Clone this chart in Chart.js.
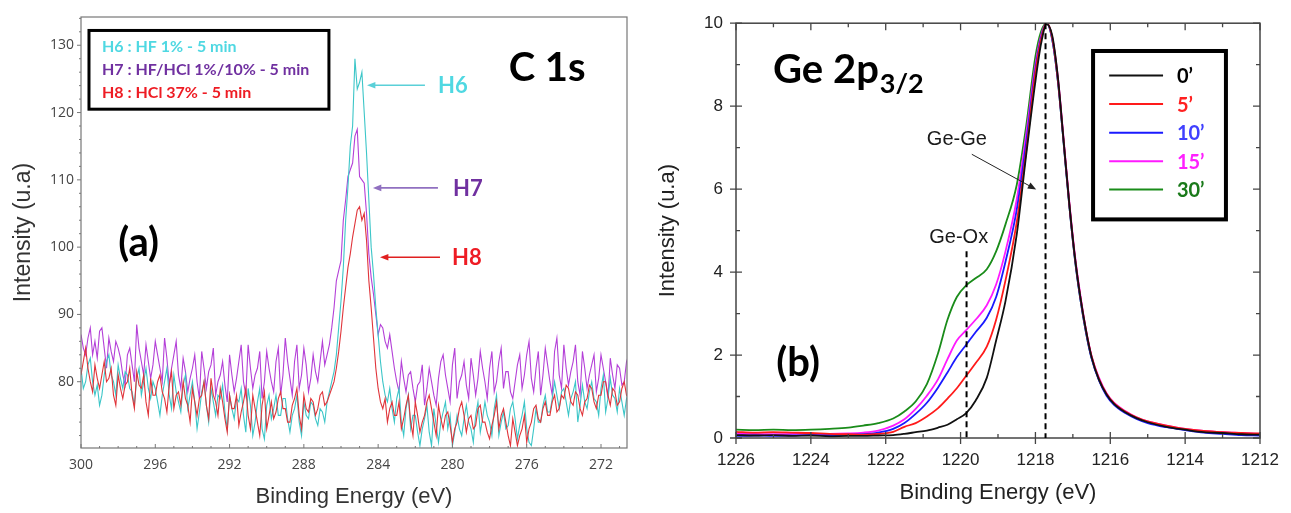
<!DOCTYPE html>
<html>
<head>
<meta charset="utf-8">
<script src="https://cdn.jsdelivr.net/npm/chart.js@4.4.1/dist/chart.umd.min.js"></script>
<style>
  html, body { margin: 0; padding: 0; background: #fff; }
  #wrap { position: relative; width: 1291px; height: 513px; }
  .panel { position: absolute; top: 0; height: 513px; }
  #panel-a { left: 0; width: 645px; }
  #panel-b { left: 645px; width: 646px; }
</style>
</head>
<body>
<div id="wrap">
  <div class="panel" id="panel-a"><canvas id="c1s"></canvas></div>
  <div class="panel" id="panel-b"><canvas id="ge2p"></canvas></div>
</div>
<script>
// ---- (a) C 1s : sampled every 0.125 eV from 300 eV downwards
const c1sStart = 300, c1sStep = 0.125;
const h7 = [87, 85, 84, 86.5, 88, 84, 86, 83.5, 87.5, 88,
  85, 82, 86.5, 84.5, 83, 86, 85, 83.5, 81, 79.5,
  84, 85, 82.5, 80, 88.5, 85, 83, 81, 85.5, 83,
  80.5, 82.5, 86, 84, 82, 80, 86.5, 83.5, 79.5, 82,
  84, 86, 81, 79, 83.5, 81.5, 78.5, 80.5, 82, 84,
  80, 77.5, 84.5, 82, 79, 81.5, 82.5, 85, 78, 80,
  81, 83, 79.5, 77, 84, 81, 78.5, 80.5, 83, 85.5,
  80, 78, 85.5, 82, 79, 81, 82, 84.5, 77.5, 80,
  84.5, 82, 80, 78.5, 83, 85, 78, 81, 86.5, 83,
  80.5, 78, 83, 85.5, 79, 81, 85, 82.5, 78.5, 80.5,
  84, 81.5, 80, 83, 86, 82.5, 84, 85.5, 88, 91,
  95, 96.5, 98, 104, 107, 110.5, 111.5, 112.5, 116.5, 117.5,
  110.5, 110, 109.5, 105, 99, 95.5, 93, 90, 87, 88.5,
  88, 86, 85, 87, 84.5, 82, 80, 78.5, 83, 80.5,
  78.5, 81, 81.5, 79, 77, 79.5, 80, 82.5, 76.5, 79,
  82, 80, 78, 76.5, 80.5, 83, 84, 81, 79, 77,
  82.5, 85, 77.5, 80, 81, 83, 79.5, 77.5, 83.5, 81,
  78, 80.5, 84.5, 82, 80, 77.5, 82, 84.5, 78.5, 80,
  83, 85, 79, 81.5, 81.5, 78.5, 77.5, 80, 82.5, 84,
  79, 81, 84, 86, 80.5, 78.5, 82, 84.5, 78, 81,
  85, 82.5, 80, 78, 84.5, 86.5, 81, 79, 85.5, 82,
  79.5, 81.5, 83, 85.5, 80, 78, 84.5, 82, 79, 81,
  82.5, 84, 78.5, 80.5, 84, 82, 80, 77.5, 83.5, 81,
  79, 82.5, 82, 79.5, 80, 83, 84];
const h6 = [82, 79, 80, 82.5, 83.5, 80, 78, 79.5, 76.5, 78,
  81, 83, 84, 81, 80, 78, 82.5, 80.5, 79, 81.5,
  81, 79, 78.5, 76.5, 80.5, 82, 78, 80, 82, 79,
  77.5, 80, 79, 77, 75, 78, 80, 82, 78, 76,
  81, 78.5, 77, 75.5, 79.5, 81, 76, 78, 80, 77,
  73, 75.5, 78.5, 80, 76.5, 74, 79, 77, 75, 78,
  77.5, 79.5, 75.5, 73, 78, 76, 74.5, 77.5, 77, 79,
  75, 72.5, 79, 76.5, 72, 74, 77, 79, 73, 71.5,
  76.5, 78, 74.5, 76, 78, 75, 75, 77.5, 77.5, 74.5,
  72.5, 75, 76, 78, 74, 72, 77, 75, 74.5, 77,
  76.5, 74.5, 73.5, 76, 75.5, 74, 77, 78.5, 80, 81.5,
  84, 88, 92, 97, 104, 109, 115, 118, 128, 123.5,
  124.5, 126, 120, 114, 107, 100, 96, 91, 87, 83,
  80, 78, 77, 79, 76, 74, 77.5, 79, 74, 72,
  76, 78, 73, 75, 75, 72.5, 70.5, 73, 74.5, 76.5,
  72.5, 70.5, 76, 73.5, 71, 74, 75.5, 77, 73, 75,
  70.5, 72.5, 75, 73, 72, 74.5, 76.5, 74, 73, 71,
  75, 77, 72.5, 74.5, 77, 75, 74, 72, 76, 78,
  72, 74, 75.5, 73, 73.5, 76, 77, 74.5, 71.5, 73.5,
  75, 77, 73, 71, 70.5, 73, 76, 74, 74, 76.5,
  78, 75.5, 75.5, 77.5, 80, 78, 76, 78.5, 79, 77,
  75, 77.5, 78.5, 80, 74, 76.5, 79.5, 77, 76, 78.5,
  80, 77.5, 77, 75, 79, 81, 75.5, 77.5, 80.5, 78,
  77.5, 75.5, 79, 77, 75, 77.5, 78.5];
const h8 = [81, 83, 85, 82, 80, 78.5, 82.5, 80.5, 79, 81,
  83, 80, 80.5, 82, 78, 76.5, 81, 79, 77.5, 79.5,
  80, 82, 78, 76, 81.5, 79.5, 79, 81, 77, 75,
  80.5, 78, 78, 80, 81, 78.5, 77.5, 75.5, 79.5, 81.5,
  76, 78, 78.5, 76.5, 80, 77.5, 76.5, 74, 79, 77,
  75, 77.5, 78, 80, 76.5, 74.5, 80.5, 78, 77, 75,
  79, 77, 74.5, 72.5, 78, 76, 76, 78, 73.5, 75.5,
  77, 79, 75, 73, 78, 76, 74, 72, 76.5, 78.5,
  73, 75, 77, 74.5, 75.5, 77.5, 78.5, 76, 76, 74,
  74, 76.5, 77.5, 79, 75, 73, 78, 76, 75.5, 77.5,
  77, 75, 76, 78, 78.5, 76.5, 77, 78, 79, 80,
  82, 84.5, 87.5, 91, 94, 97, 99, 101.5, 103.5, 105.5,
  106, 104, 105, 101, 95, 91, 86.5, 82, 79, 77,
  76, 77.5, 74, 76, 77, 75, 75, 77, 73, 74.5,
  76.5, 78, 74, 72, 77, 75, 72.5, 74, 75, 77,
  78, 76, 74, 72, 76.5, 74.5, 73, 75, 75.5, 73.5,
  71, 73, 74, 76, 77, 75, 72.5, 74.5, 75, 73,
  73.5, 76, 76.5, 74, 74, 72.5, 71.5, 73.5, 75, 77,
  73, 75, 76, 74, 72, 70.5, 74.5, 72.5, 70.5, 72,
  73, 75, 71, 73, 74, 76, 76.5, 74.5, 74, 76,
  77, 75, 75, 77, 78, 75.5, 76, 78, 77.5, 79.5,
  79, 77, 76.5, 78.5, 78, 76, 75, 77, 77.5, 79.5,
  79, 77, 76, 78, 78, 80, 80, 78, 76.5, 79,
  78.5, 76.5, 77, 79, 80, 78, 77.5];
const c1sEnergy = h6.map((_, i) => c1sStart - i * c1sStep);
const c1sXTicks = [300, 296, 292, 288, 284, 280, 276, 272];
const c1sXMinor = [299, 298, 297, 295, 294, 293, 291, 290, 289, 287, 286, 285, 283, 282, 281, 279, 278, 277, 275, 274, 273, 271];
const c1sYTicks = [80, 90, 100, 110, 120, 130];
const c1sYMinor = [72, 74, 76, 78, 82, 84, 86, 88, 92, 94, 96, 98, 102, 104, 106, 108, 112, 114, 116, 118, 122, 124, 126, 128, 132, 134];

// ---- (b) Ge 2p3/2
const geEnergy = [1226, 1225.5, 1225, 1224.5, 1224, 1223.5, 1223, 1222.6, 1222.2, 1221.8,
  1221.5, 1221.2, 1220.9, 1220.6, 1220.35, 1220.1, 1219.85, 1219.6, 1219.3, 1219.05,
  1218.8, 1218.5, 1218.25, 1218.0, 1217.85, 1217.7, 1217.55, 1217.4, 1217.25, 1217.1,
  1216.95, 1216.8, 1216.65, 1216.5, 1216.3, 1216.1, 1215.9, 1215.6, 1215.3, 1215.0,
  1214.5, 1214, 1213.5, 1213, 1212.5, 1212];
const ge0 = [0.07, 0.06, 0.07, 0.05, 0.06, 0.04, 0.05, 0.05, 0.06, 0.07,
  0.1, 0.14, 0.18, 0.25, 0.32, 0.45, 0.6, 0.9, 1.45, 2.35,
  3.3, 4.9, 6.8, 8.6, 9.5, 9.98, 9.7, 8.7, 7.2, 5.7,
  4.4, 3.4, 2.6, 1.95, 1.4, 1.05, 0.82, 0.62, 0.48, 0.38,
  0.27, 0.2, 0.14, 0.12, 0.09, 0.08];
const ge5 = [0.15, 0.13, 0.14, 0.13, 0.12, 0.1, 0.09, 0.08, 0.1, 0.15,
  0.27, 0.36, 0.52, 0.72, 0.95, 1.2, 1.5, 1.8, 2.2, 2.85,
  3.8, 5.2, 6.9, 8.8, 9.6, 10, 9.65, 8.65, 7.2, 5.7,
  4.4, 3.4, 2.6, 1.97, 1.42, 1.07, 0.84, 0.64, 0.5, 0.4,
  0.3, 0.22, 0.17, 0.14, 0.12, 0.11];
const ge10 = [0.05, 0.06, 0.05, 0.06, 0.07, 0.07, 0.08, 0.09, 0.13, 0.22,
  0.36, 0.58, 0.85, 1.22, 1.58, 1.95, 2.25, 2.55, 2.9, 3.4,
  4.25, 5.5, 7.1, 8.9, 9.65, 10, 9.6, 8.6, 7.15, 5.65,
  4.35, 3.35, 2.55, 1.92, 1.38, 1.02, 0.8, 0.6, 0.46, 0.36,
  0.26, 0.19, 0.13, 0.1, 0.07, 0.06];
const ge15 = [0.1, 0.1, 0.09, 0.1, 0.1, 0.1, 0.11, 0.13, 0.18, 0.3,
  0.45, 0.7, 1.02, 1.42, 1.9, 2.35, 2.6, 2.85, 3.2, 3.7,
  4.5, 5.75, 7.3, 9.0, 9.7, 10, 9.65, 8.7, 7.25, 5.75,
  4.45, 3.45, 2.62, 1.98, 1.45, 1.08, 0.85, 0.65, 0.5, 0.4,
  0.3, 0.22, 0.17, 0.14, 0.12, 0.1];
const ge30 = [0.2, 0.19, 0.2, 0.19, 0.2, 0.22, 0.25, 0.3, 0.36, 0.47,
  0.64, 0.88, 1.3, 2.05, 2.85, 3.4, 3.68, 3.85, 4.07, 4.5,
  5.15, 6.1, 7.5, 9.2, 9.8, 10, 9.6, 8.6, 7.15, 5.65,
  4.35, 3.35, 2.55, 1.93, 1.4, 1.05, 0.82, 0.62, 0.48, 0.38,
  0.28, 0.2, 0.15, 0.12, 0.1, 0.08];
const geLabels = ['0’', '5’', '10’', '15’', '30’'];
const geXTicks = [1226, 1224, 1222, 1220, 1218, 1216, 1214, 1212];
const geXMinor = [1225, 1223, 1221, 1219, 1217, 1215, 1213];
const geYTicks = [0, 2, 4, 6, 8, 10];
const geYMinor = [1, 3, 5, 7, 9];

const AXIS_FONT = '"Liberation Sans", Arial, sans-serif';
const BOLD_FONT = 'Lato, "Open Sans", sans-serif';

function pts(xs, ys) { return ys.map((v, i) => ({ x: xs[i], y: v })); }

function axisDecor(spec) {
  return {
    id: 'axisDecor',
    afterDatasetsDraw(chart) {
      const { ctx, chartArea: a, scales: { x, y } } = chart;
      ctx.save();
      ctx.strokeStyle = spec.color;
      ctx.lineWidth = spec.frameWidth;
      ctx.strokeRect(a.left, a.top, a.right - a.left, a.bottom - a.top);
      ctx.lineWidth = spec.tickWidth;
      ctx.beginPath();
      (spec.bottom || []).forEach(([vals, inner, outer]) => vals.forEach(v => {
        const p = x.getPixelForValue(v); ctx.moveTo(p, a.bottom - inner); ctx.lineTo(p, a.bottom + outer);
      }));
      (spec.top || []).forEach(([vals, inner, outer]) => vals.forEach(v => {
        const p = x.getPixelForValue(v); ctx.moveTo(p, a.top + inner); ctx.lineTo(p, a.top - outer);
      }));
      (spec.left || []).forEach(([vals, inner, outer]) => vals.forEach(v => {
        const p = y.getPixelForValue(v); ctx.moveTo(a.left + inner, p); ctx.lineTo(a.left - outer, p);
      }));
      (spec.right || []).forEach(([vals, inner, outer]) => vals.forEach(v => {
        const p = y.getPixelForValue(v); ctx.moveTo(a.right - inner, p); ctx.lineTo(a.right + outer, p);
      }));
      ctx.stroke();
      ctx.restore();
    }
  };
}

function arrow(ctx, x1, y1, x2, y2, color, width, head) {
  const ang = Math.atan2(y2 - y1, x2 - x1);
  ctx.strokeStyle = color; ctx.fillStyle = color; ctx.lineWidth = width;
  ctx.beginPath();
  ctx.moveTo(x1, y1);
  ctx.lineTo(x2 - Math.cos(ang) * head * 0.8, y2 - Math.sin(ang) * head * 0.8);
  ctx.stroke();
  ctx.beginPath();
  ctx.moveTo(x2, y2);
  ctx.lineTo(x2 - head * Math.cos(ang - 0.38), y2 - head * Math.sin(ang - 0.38));
  ctx.lineTo(x2 - head * Math.cos(ang + 0.38), y2 - head * Math.sin(ang + 0.38));
  ctx.closePath();
  ctx.fill();
}

function pixel(chart, xv, yv) {
  return [chart.scales.x.getPixelForValue(xv), chart.scales.y.getPixelForValue(yv)];
}

// notes on panel (a)
const notesC1s = {
  id: 'notesC1s',
  afterDraw(chart) {
    const ctx = chart.ctx;
    ctx.save();
    const [bx1, by1] = pixel(chart, 299.57, 132.2);
    const [bx2, by2] = pixel(chart, 286.65, 120.5);
    ctx.fillStyle = '#fff';
    ctx.fillRect(bx1, by1, bx2 - bx1, by2 - by1);
    ctx.lineWidth = 3; ctx.strokeStyle = '#000';
    ctx.strokeRect(bx1, by1, bx2 - bx1, by2 - by1);
    ctx.font = 'bold 16px ' + BOLD_FONT;
    ctx.textBaseline = 'middle'; ctx.textAlign = 'left';
    [['H6 : HF 1% - 5 min', '#4fd8e2', 129.7], ['H7 : HF/HCl 1%/10% - 5 min', '#7030a0', 126.3], ['H8 : HCl 37% - 5 min', '#ee1c24', 123.0]]
      .forEach(([t, c, yv]) => { const [px, py] = pixel(chart, 298.87, yv); ctx.fillStyle = c; ctx.fillText(t, px, py); });

    ctx.fillStyle = '#000';
    ctx.font = 'bold 40px ' + BOLD_FONT;
    ctx.textAlign = 'center';
    let [px, py] = pixel(chart, 274.9, 126.6);
    ctx.fillText('C 1s', px, py);
    [px, py] = pixel(chart, 296.9, 100.6);
    ctx.fillText('(a)', px, py);

    [['H6', 124.06, 281.48, 284.6, 280.78, '#5ad0d8', '#4fd8e2'],
     ['H7', 108.8, 280.78, 284.28, 279.97, '#9070c0', '#7030a0'],
     ['H8', 98.5, 280.67, 283.9, 280.02, '#e02020', '#ee1c24']].forEach(([t, yv, tail, head, tx, ac, tc]) => {
      const [x1, y1] = pixel(chart, tail, yv);
      const [x2] = pixel(chart, head, yv);
      arrow(ctx, x1, y1, x2, y1, ac, 1.6, 9);
      const [lx] = pixel(chart, tx, yv);
      ctx.font = 'bold 22px ' + BOLD_FONT;
      ctx.textAlign = 'left';
      ctx.fillStyle = tc;
      ctx.fillText(t, lx, y1 + 1);
    });
    ctx.restore();
  }
};

// notes on panel (b)
const geColors = ['#111111', '#ff1a1a', '#1a1aff', '#ff1aff', '#1a8c1a'];
const geTextColors = ['#000000', '#ff2020', '#4040ff', '#ff20ff', '#1a7a1a'];
const notesGe = {
  id: 'notesGe',
  afterDraw(chart) {
    const ctx = chart.ctx;
    ctx.save();
    ctx.setLineDash([6, 4]);
    ctx.strokeStyle = '#000'; ctx.lineWidth = 2;
    let [x1, y1] = pixel(chart, 1217.73, 10);
    let [x2, y2] = pixel(chart, 1217.73, 0);
    ctx.beginPath(); ctx.moveTo(x1, y1); ctx.lineTo(x2, y2); ctx.stroke();
    [x1, y1] = pixel(chart, 1219.84, 4.5);
    [x2, y2] = pixel(chart, 1219.84, 0);
    ctx.beginPath(); ctx.moveTo(x1, y1); ctx.lineTo(x2, y2); ctx.stroke();
    ctx.setLineDash([]);

    ctx.fillStyle = '#1a1a1a';
    ctx.font = '20px ' + AXIS_FONT;
    ctx.textAlign = 'center'; ctx.textBaseline = 'middle';
    let [px, py] = pixel(chart, 1220.1, 7.2);
    ctx.fillText('Ge-Ge', px, py);
    [px, py] = pixel(chart, 1220.05, 4.83);
    ctx.fillText('Ge-Ox', px, py);
    [x1, y1] = pixel(chart, 1219.7, 6.84);
    [x2, y2] = pixel(chart, 1217.98, 5.99);
    arrow(ctx, x1, y1, x2, y2, '#222', 1, 9);

    ctx.fillStyle = '#000';
    ctx.textAlign = 'left'; ctx.textBaseline = 'alphabetic';
    ctx.font = 'bold 40px ' + BOLD_FONT;
    [px, py] = pixel(chart, 1225.01, 8.57);
    ctx.fillText('Ge 2p', px, py);
    const w = ctx.measureText('Ge 2p').width;
    ctx.font = 'bold 27px ' + BOLD_FONT;
    ctx.fillText('3/2', px + w + 1, py + 10);

    ctx.font = 'bold 40px ' + BOLD_FONT;
    ctx.textAlign = 'center'; ctx.textBaseline = 'middle';
    [px, py] = pixel(chart, 1224.34, 1.8);
    ctx.fillText('(b)', px, py);

    const [bx1, by1] = pixel(chart, 1216.46, 9.33);
    const [bx2, by2] = pixel(chart, 1212.91, 5.27);
    ctx.fillStyle = '#fff';
    ctx.fillRect(bx1, by1, bx2 - bx1, by2 - by1);
    ctx.lineWidth = 4; ctx.strokeStyle = '#000';
    ctx.strokeRect(bx1, by1, bx2 - bx1, by2 - by1);
    const rows = [8.74, 8.05, 7.36, 6.67, 5.99];
    ctx.font = 'bold 20px ' + BOLD_FONT;
    ctx.textAlign = 'left';
    geLabels.forEach((lab, i) => {
      const [lx1, ly] = pixel(chart, 1216.03, rows[i]);
      const [lx2] = pixel(chart, 1214.59, rows[i]);
      ctx.strokeStyle = geColors[i]; ctx.lineWidth = 2;
      ctx.beginPath(); ctx.moveTo(lx1, ly); ctx.lineTo(lx2, ly); ctx.stroke();
      const [tx] = pixel(chart, 1214.22, rows[i]);
      ctx.fillStyle = geTextColors[i];
      ctx.fillText(lab, tx, ly + 1);
    });
    ctx.restore();
  }
};

new Chart(document.getElementById('c1s'), {
  type: 'line',
  data: {
    datasets: [
      { label: 'H8', data: pts(c1sEnergy, h8), borderColor: '#e0343a', borderWidth: 1.1, order: 1 },
      { label: 'H6', data: pts(c1sEnergy, h6), borderColor: '#3cc6c8', borderWidth: 1.1, order: 2 },
      { label: 'H7', data: pts(c1sEnergy, h7), borderColor: '#b440d8', borderWidth: 1.1, order: 3 }
    ]
  },
  options: {
    responsive: true, maintainAspectRatio: false, animation: false,
    layout: { padding: { top: 17, right: 18, left: 0, bottom: 0 } },
    elements: { point: { radius: 0 }, line: { tension: 0 } },
    plugins: { legend: { display: false }, tooltip: { enabled: false } },
    scales: {
      x: {
        type: 'linear', reverse: true, min: 270.6, max: 300,
        grid: { display: false, drawTicks: false }, border: { display: false },
        afterBuildTicks: s => { s.ticks = c1sXTicks.map(v => ({ value: v })); },
        afterFit: s => { s.height = 65; },
        ticks: { padding: 9, color: '#444', font: { family: '"Open Sans", sans-serif', size: 14 }, maxRotation: 0, autoSkip: false, callback: v => String(v) },
        title: { display: true, text: 'Binding Energy (eV)', color: '#333', font: { family: AXIS_FONT, size: 22 }, padding: { top: 0, bottom: 3 } }
      },
      y: {
        min: 70.15, max: 134.2,
        grid: { display: false, drawTicks: false }, border: { display: false },
        afterBuildTicks: s => { s.ticks = c1sYTicks.map(v => ({ value: v })); },
        afterFit: s => { s.width = 81; },
        ticks: { padding: 7, color: '#444', font: { family: '"Open Sans", sans-serif', size: 14 }, autoSkip: false, callback: v => String(v) },
        title: { display: true, text: 'Intensity (u.a)', color: '#333', font: { family: AXIS_FONT, size: 23 }, padding: { top: 10, bottom: 0 } }
      }
    }
  },
  plugins: [axisDecor({
    color: '#777', frameWidth: 1.2, tickWidth: 1,
    bottom: [[c1sXTicks, 4, 0], [c1sXMinor, 2, 0]],
    left: [[c1sYTicks, 0, 4], [c1sYMinor, 0, 2]]
  }), notesC1s]
});

new Chart(document.getElementById('ge2p'), {
  type: 'line',
  data: {
    datasets: [ge0, ge5, ge10, ge15, ge30].map((vals, i) => ({
      label: geLabels[i], data: pts(geEnergy, vals), borderColor: geColors[i], borderWidth: 1.8, order: i + 1
    }))
  },
  options: {
    responsive: true, maintainAspectRatio: false, animation: false,
    layout: { padding: { top: 17, right: 31, left: 0, bottom: 0 } },
    elements: { point: { radius: 0 }, line: { tension: 0.3, cubicInterpolationMode: 'monotone' } },
    plugins: { legend: { display: false }, tooltip: { enabled: false } },
    scales: {
      x: {
        type: 'linear', reverse: true, min: 1212, max: 1226,
        grid: { display: false, drawTicks: false }, border: { display: false },
        afterBuildTicks: s => { s.ticks = geXTicks.map(v => ({ value: v })); },
        afterFit: s => { s.height = 75; },
        ticks: { padding: 12, color: '#222', font: { family: AXIS_FONT, size: 17 }, maxRotation: 0, autoSkip: false, callback: v => String(v) },
        title: { display: true, text: 'Binding Energy (eV)', color: '#222', font: { family: AXIS_FONT, size: 22 }, padding: { top: 0, bottom: 7 } }
      },
      y: {
        min: 0, max: 10,
        grid: { display: false, drawTicks: false }, border: { display: false },
        afterBuildTicks: s => { s.ticks = geYTicks.map(v => ({ value: v })); },
        afterFit: s => { s.width = 91; },
        ticks: { padding: 13, color: '#222', font: { family: AXIS_FONT, size: 17 }, autoSkip: false, callback: v => String(v) },
        title: { display: true, text: 'Intensity (u.a)', color: '#222', font: { family: AXIS_FONT, size: 22 }, padding: { top: 10, bottom: 0 } }
      }
    }
  },
  plugins: [axisDecor({
    color: '#444', frameWidth: 1.5, tickWidth: 1.3,
    bottom: [[geXTicks, 6, 6], [geXMinor, 4, 0]],
    top: [[geXTicks, 7, 0], [geXMinor, 4, 0]],
    left: [[geYTicks, 6, 6], [geYMinor, 4, 0]],
    right: [[geYTicks, 7, 0], [geYMinor, 4, 0]]
  }), notesGe]
});
</script>
</body>
</html>
